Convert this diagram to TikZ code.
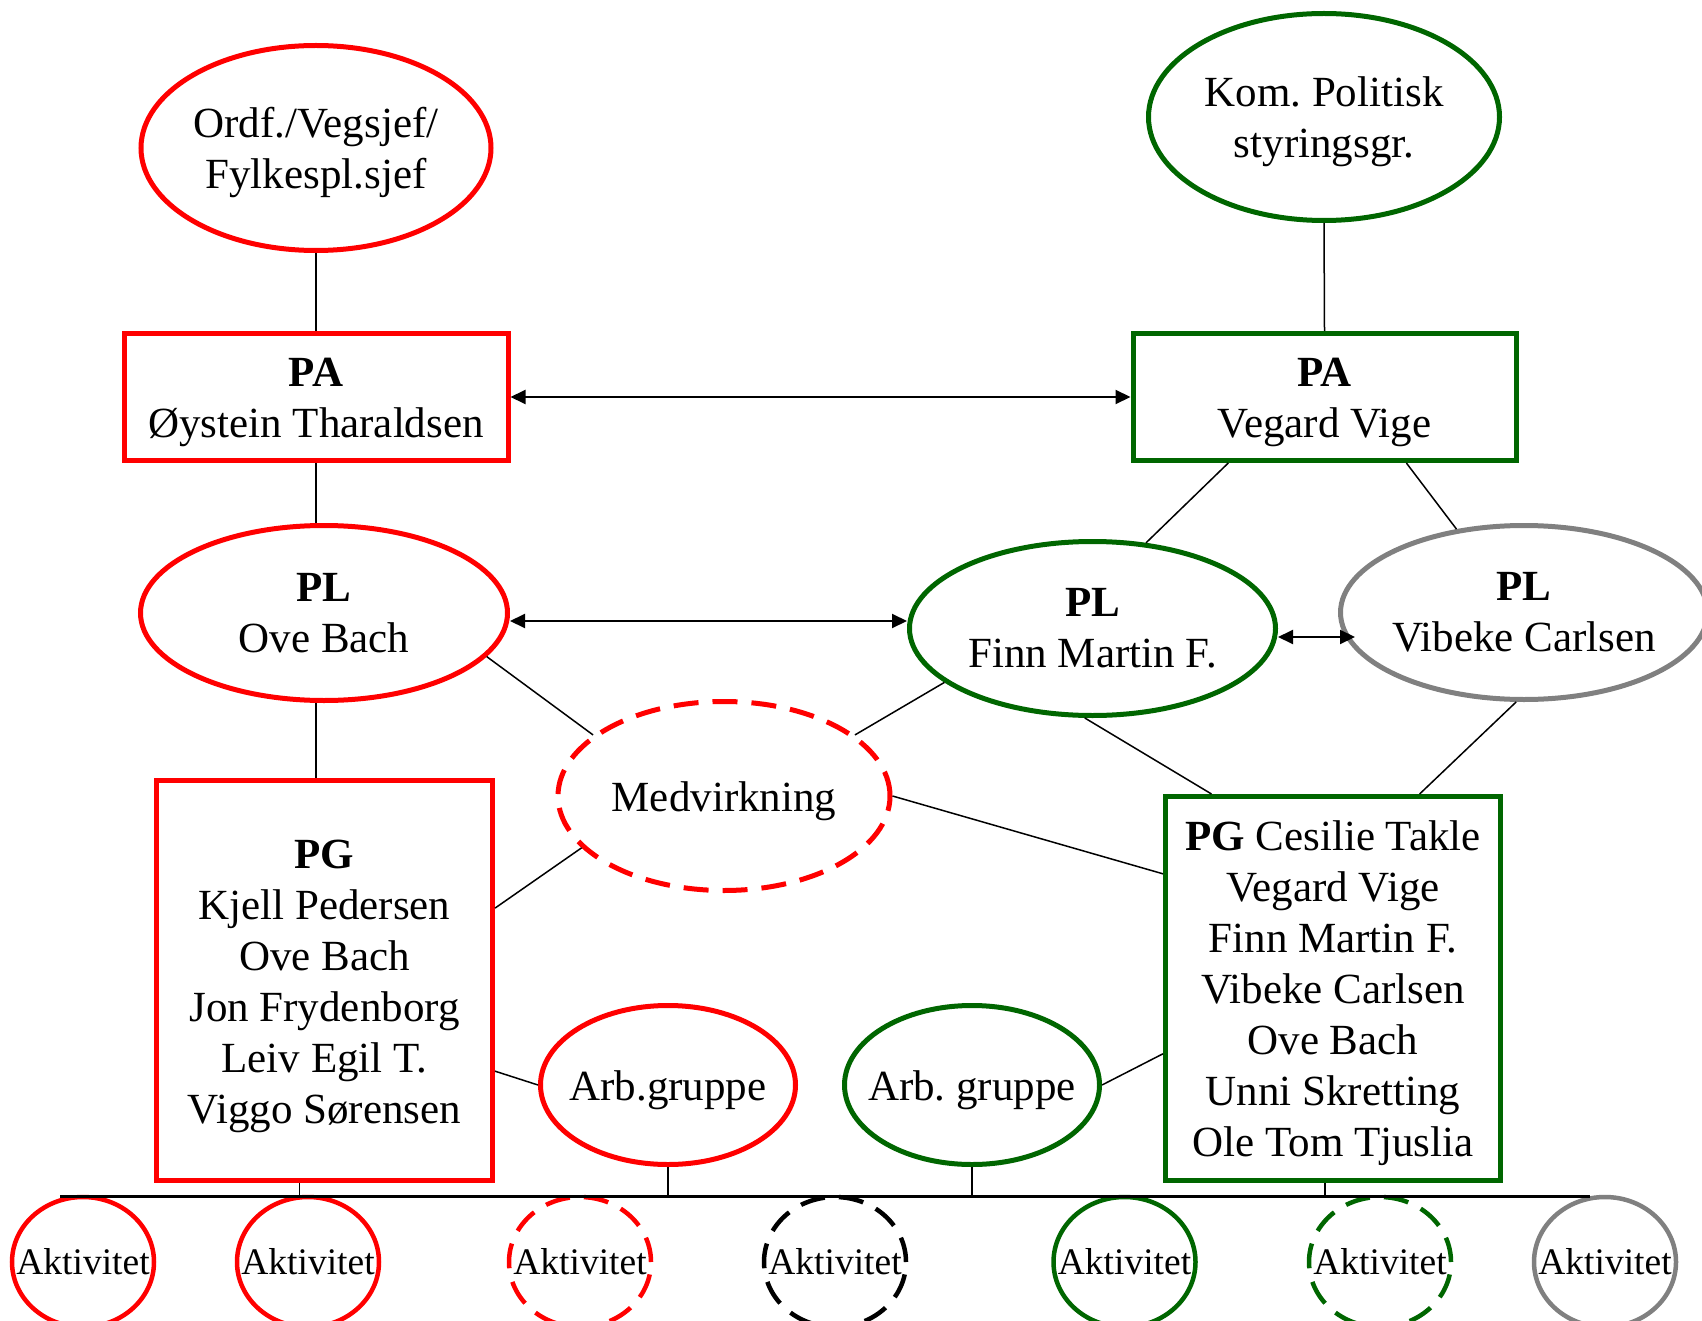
\documentclass[tikz,border=0pt]{standalone}
\usepackage{fontspec}
\setmainfont{Liberation Serif}
\usetikzlibrary{arrows.meta,shapes.geometric,calc}
\definecolor{myred}{RGB}{255,0,0}
\definecolor{mygreen}{RGB}{0,102,0}
\definecolor{mygrey}{RGB}{128,128,128}
\newcommand\mytopstrut{\rule{0pt}{40pt}}
\begin{document}
\begin{tikzpicture}[x=1pt,y=-1pt,
  every node/.style={inner sep=0pt},
  bigtxt/.style={font=\fontsize{43}{51}\selectfont, align=center},
  ell/.style={ellipse, draw, line width=5pt, inner xsep=-30pt, inner ysep=0pt, bigtxt},
  box/.style={rectangle, draw, line width=5pt, bigtxt},
  akt/.style={ellipse, draw, line width=4.5pt, inner xsep=-30pt, minimum width=142pt, minimum height=130pt, font=\fontsize{37.5}{44}\selectfont},
  conn/.style={line width=1.5pt},
  dbl/.style={line width=2pt, {Triangle[length=15pt,width=14pt]}-{Triangle[length=15pt,width=14pt]}},
  dsh/.style={dash pattern=on 25pt off 14pt},
]
\useasboundingbox (0,0) rectangle (1702,1321);
\clip (0,0) rectangle (1702,1321);

% top level
\node[ell, draw=myred, minimum width=350pt, minimum height=205pt] (ordf) at (316,148) {\mytopstrut Ordf./Vegsjef/\\Fylkespl.sjef};
\node[ell, draw=mygreen, minimum width=351pt, minimum height=207pt] (kom) at (1324,117) {\mytopstrut Kom.\ Politisk\\styringsgr.};

% PA
\node[box, draw=myred, minimum width=384pt, minimum height=127pt] (pa1) at (316,397) {\mytopstrut\textbf{PA}\\Øystein Tharaldsen};
\node[box, draw=mygreen, minimum width=383pt, minimum height=127pt] (pa2) at (1324.5,397) {\mytopstrut\textbf{PA}\\Vegard Vige};

% PL
\node[ell, draw=myred, minimum width=367pt, minimum height=175pt] (pl1) at (324,613) {\textbf{PL}\\Ove Bach};
\node[ell, draw=mygreen, minimum width=366pt, minimum height=174pt] (pl2) at (1092.5,628.5) {\textbf{PL}\\Finn Martin F.};
\node[ell, draw=mygrey, minimum width=367pt, minimum height=174pt] (pl3) at (1524,612.5) {\textbf{PL}\\Vibeke Carlsen};

% Medvirkning
\node[ell, draw=myred, dsh, minimum width=332pt, minimum height=189pt] (med) at (724,796) {\mytopstrut Medvirkning};

% PG
\node[box, draw=myred, minimum width=336pt, minimum height=400pt] (pg1) at (324.5,980.5) {\mytopstrut\textbf{PG}\\Kjell Pedersen\\Ove Bach\\Jon Frydenborg\\Leiv Egil T.\\Viggo Sørensen};
\node[box, draw=mygreen, minimum width=335pt, minimum height=384pt] (pg2) at (1333,988.5) {\mytopstrut\textbf{PG} Cesilie Takle\\Vegard Vige\\Finn Martin F.\\Vibeke Carlsen\\Ove Bach\\Unni Skretting\\Ole Tom Tjuslia};

% Arb. grupper
\node[ell, draw=myred, minimum width=255pt, minimum height=159pt] (arb1) at (668,1085) {\mytopstrut Arb.gruppe};
\node[ell, draw=mygreen, minimum width=255pt, minimum height=159pt] (arb2) at (972,1085) {\mytopstrut Arb.\ gruppe};

% Aktiviteter
\node[akt, draw=myred] (a1) at (83,1262) {Aktivitet};
\node[akt, draw=myred] (a2) at (308,1262) {Aktivitet};
\node[akt, draw=myred, dsh] (a3) at (580,1262) {Aktivitet};
\node[akt, draw=black, dsh] (a4) at (835,1262) {Aktivitet};
\node[akt, draw=mygreen] (a5) at (1124.5,1262) {Aktivitet};
\node[akt, draw=mygreen, dsh] (a6) at (1380,1262) {Aktivitet};
\node[akt, draw=mygrey] (a7) at (1605,1262) {Aktivitet};

% vertical connectors
\draw[conn] (ordf.south) -- (pa1.north);
\draw[conn] (kom.south) -- (pa2.north);
\draw[conn] (pa1.south) -- (pa1.south |- pl1.north);
\draw[conn] (pl1.south -| pa1.south) -- (pg1.north -| pa1.south);

% double arrows
\draw[dbl] (pa1.east) -- (pa2.west);
\draw[dbl] ($(pl1.east)+(0,8)$) -- ($(pl2.west)+(0,-7.5)$);
\draw[dbl] ($(pl2.east)+(0,8.5)$) -- ($(pl3.west)+(17,24.5)$);

% diagonal connectors
\draw[conn] ($(pa2.south west)!0.252!(pa2.south east)$) -- (pl2.58);
\draw[conn] ($(pa2.south west)!0.711!(pa2.south east)$) -- (pl3.129);
\draw[conn] (pl1.-15) -- (med.155);
\draw[conn] (med.25) -- (pl2.200);
\draw[conn] (med.200) -- (pg1.23);
\draw[conn] (med.east) -- (pg2.146);
\draw[conn] (pl2.265) -- (pg2.122);
\draw[conn] (pl3.265) -- (pg2.66);
\draw[conn] (pg1.-28) -- (arb1.west);
\draw[conn] (arb2.east) -- (pg2.201);

% bus
\coordinate (busL) at (60,1196.5);
\coordinate (busR) at (1590,1196.5);
\draw[line width=2.5pt] (busL) -- (busR);
\coordinate (d1) at ($(pg1.south west)!0.427!(pg1.south east)$);
\coordinate (d2) at ($(pg2.south west)!0.476!(pg2.south east)$);
\draw[conn] (d1) -- (d1 |- busL);
\draw[conn] (d2) -- (d2 |- busL);
\draw[conn] (arb1.south) -- (arb1.south |- busL);
\draw[conn] (arb2.south) -- (arb2.south |- busL);
\end{tikzpicture}
\end{document}
